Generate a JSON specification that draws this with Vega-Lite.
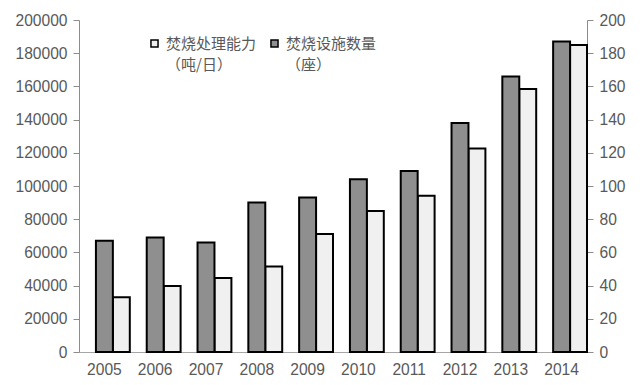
{
  "$schema": "https://vega.github.io/schema/vega-lite/v6.json",
  "autosize": "none",
  "width": 508,
  "height": 332,
  "padding": {"left": 79, "top": 20, "right": 53, "bottom": 33},
  "background": "white",
  "config": {
    "view": {"stroke": null},
    "axis": {
      "labelFont": "Liberation Sans",
      "labelFontSize": 15.6,
      "labelColor": "#595959",
      "domainColor": "#8c8c8c",
      "tickColor": "#8c8c8c",
      "grid": false,
      "title": null
    }
  },
  "data": {
    "values": [
      {"year": "2005", "series": "焚烧设施数量", "value": 67},
      {"year": "2006", "series": "焚烧设施数量", "value": 69},
      {"year": "2007", "series": "焚烧设施数量", "value": 66},
      {"year": "2008", "series": "焚烧设施数量", "value": 90},
      {"year": "2009", "series": "焚烧设施数量", "value": 93},
      {"year": "2010", "series": "焚烧设施数量", "value": 104},
      {"year": "2011", "series": "焚烧设施数量", "value": 109},
      {"year": "2012", "series": "焚烧设施数量", "value": 138},
      {"year": "2013", "series": "焚烧设施数量", "value": 166},
      {"year": "2014", "series": "焚烧设施数量", "value": 187},
      {"year": "2005", "series": "焚烧处理能力", "value": 33010},
      {"year": "2006", "series": "焚烧处理能力", "value": 39700},
      {"year": "2007", "series": "焚烧处理能力", "value": 44600},
      {"year": "2008", "series": "焚烧处理能力", "value": 51500},
      {"year": "2009", "series": "焚烧处理能力", "value": 71100},
      {"year": "2010", "series": "焚烧处理能力", "value": 85000},
      {"year": "2011", "series": "焚烧处理能力", "value": 94100},
      {"year": "2012", "series": "焚烧处理能力", "value": 122600},
      {"year": "2013", "series": "焚烧处理能力", "value": 158400},
      {"year": "2014", "series": "焚烧处理能力", "value": 185000}
    ]
  },
  "encoding": {
    "x": {
      "field": "year",
      "type": "nominal",
      "scale": {"paddingInner": 0, "paddingOuter": 0},
      "axis": {"labelAngle": 0, "ticks": false, "labelPadding": 10, "domainColor": "#a6a6a6"}
    },
    "xOffset": {
      "field": "series",
      "type": "nominal",
      "scale": {"domain": ["_", "焚烧设施数量", "焚烧处理能力"], "paddingInner": 0, "paddingOuter": 0}
    },
    "fill": {
      "field": "series",
      "type": "nominal",
      "scale": {"domain": ["焚烧处理能力", "焚烧设施数量"], "range": ["#f0f0f0", "#8f8f8f"]},
      "legend": {
        "orient": "none",
        "legendX": 68,
        "legendY": 16,
        "direction": "horizontal",
        "title": null,
        "symbolType": "square",
        "symbolSize": 50,
        "symbolStrokeColor": "black",
        "symbolStrokeWidth": 1.5,
        "labelFont": "Noto Sans CJK SC",
        "labelFontSize": 15,
        "labelColor": "#595959",
        "labelOffset": 4,
        "columnPadding": 10,
        "labelExpr": "datum.label == '焚烧处理能力' ? ['焚烧处理能力', '（吨/日）'] : ['焚烧设施数量', '（座）']",
        "encode": {
          "labels": {"update": {"lineHeight": {"value": 21}, "dy": {"value": 0.5}}}
        }
      }
    }
  },
  "layer": [
    {
      "transform": [{"filter": "datum.series == '焚烧处理能力'"}],
      "mark": {"type": "bar", "stroke": "black", "strokeWidth": 2},
      "encoding": {
        "y": {
          "field": "value",
          "type": "quantitative",
          "scale": {"domain": [0, 200000], "nice": false},
          "axis": {"orient": "left", "values": [0, 20000, 40000, 60000, 80000, 100000, 120000, 140000, 160000, 180000, 200000], "format": "d", "tickSize": 6, "labelPadding": 6}
        }
      }
    },
    {
      "transform": [{"filter": "datum.series == '焚烧设施数量'"}],
      "mark": {"type": "bar", "stroke": "black", "strokeWidth": 2},
      "encoding": {
        "y": {
          "field": "value",
          "type": "quantitative",
          "scale": {"domain": [0, 200], "nice": false},
          "axis": {"orient": "right", "values": [0, 20, 40, 60, 80, 100, 120, 140, 160, 180, 200], "format": "d", "tickSize": 6, "labelPadding": 6}
        }
      }
    }
  ],
  "resolve": {"scale": {"y": "independent"}}
}
